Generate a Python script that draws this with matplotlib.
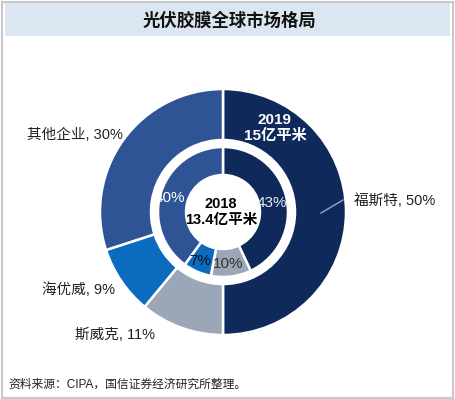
import matplotlib.pyplot as plt
from matplotlib.patches import Rectangle
from matplotlib.lines import Line2D

plt.rcParams['font.family'] = ['Liberation Sans', 'Noto Sans CJK SC', 'DejaVu Sans']

# data
companies = ['福斯特', '斯威克', '海优威', '其他企业']
share_2019 = [50, 11, 9, 30]
share_2018 = [43, 10, 7, 40]
colors = ['#0f2a5a', '#9ba7b6', '#0b6cbf', '#2e5495']

W, H = 455, 399
fig = plt.figure(figsize=(W / 100, H / 100), dpi=100)
ax = fig.add_axes([0, 0, 1, 1])

cx, cy = 223, H - 212

# outer ring 2019
ax.pie(share_2019, colors=colors, startangle=90, counterclock=False,
       center=(cx, cy), radius=123,
       wedgeprops=dict(width=51, edgecolor='white', linewidth=1.8))
# inner ring 2018
ax.pie(share_2018, colors=colors, startangle=90, counterclock=False,
       center=(cx, cy), radius=65,
       wedgeprops=dict(width=28, edgecolor='white', linewidth=1.8))

ax.set_xlim(0, W)
ax.set_ylim(0, H)
ax.set_aspect('equal')
ax.axis('off')

def px(x, y):
    return x, H - y

# frame and title band
ax.add_patch(Rectangle(px(1.5, 397.5), 451.5, 396, fill=False,
                       edgecolor='#c8c8c8', linewidth=1.5))
ax.add_patch(Rectangle(px(5, 36), 445, 33, facecolor='#dce6f2',
                       edgecolor='none'))
ax.text(*px(229, 20), '光伏胶膜全球市场格局', ha='center', va='center',
        fontsize=12.5, fontweight='bold', color='#111111')

# outer labels
lab = dict(fontsize=10.5, color='#222222', va='center')
ax.text(*px(354, 201), f'{companies[0]}, {share_2019[0]}%', ha='left', **lab)
ax.text(*px(115, 335), f'{companies[1]}, {share_2019[1]}%', ha='center', **lab)
ax.text(*px(79, 290), f'{companies[2]}, {share_2019[2]}%', ha='center', **lab)
ax.text(*px(75, 135), f'{companies[3]}, {share_2019[3]}%', ha='center', **lab)
ax.add_line(Line2D([321, 343], [H - 213, H - 200], color='#9aa8bd', linewidth=1))

# ring titles
ax.text(*px(275, 128), '2019\n15亿平米', ha='center', va='center',
        fontsize=11, fontweight='bold', color='white', linespacing=1.15)
ax.text(*px(221, 212), '2018\n13.4亿平米', ha='center', va='center',
        fontsize=10.5, fontweight='bold', color='black', linespacing=1.15)

# inner percentages
pct = dict(fontsize=11, ha='center', va='center')
ax.text(*px(272, 203), f'{share_2018[0]}%', color='#e8ecf4', **pct)
ax.text(*px(228, 264), f'{share_2018[1]}%', color='#333333', **pct)
ax.text(*px(200, 261), f'{share_2018[2]}%', color='#111111', **pct)
ax.text(*px(170, 198), f'{share_2018[3]}%', color='white', **pct)

# source
ax.text(*px(8, 385), '资料来源：CIPA，国信证券经济研究所整理。', ha='left',
        va='center', fontsize=8.5, color='#222222')

fig.savefig('out.png', dpi=100)
